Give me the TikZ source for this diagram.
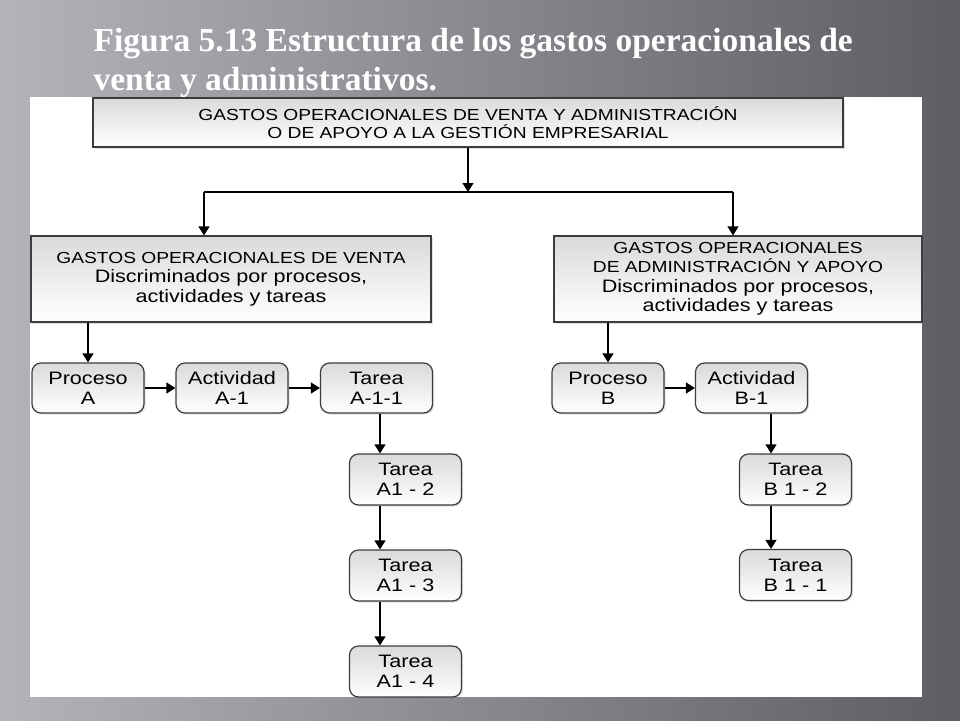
\documentclass[tikz,border=0pt]{standalone}
\usepackage{fontspec}
\setmainfont{Liberation Serif}
\newfontfamily\boxfont[FakeStretch=1.2]{Liberation Sans}
\usepackage{tikz}
\usetikzlibrary{arrows.meta}
\usetikzlibrary{shadows}

\definecolor{bglight}{HTML}{B4B3B9}
\definecolor{bgdark}{HTML}{5E5D63}
\definecolor{boxline}{HTML}{3C3C3C}
\definecolor{boxtop}{HTML}{DADADA}

\newcommand{\capsline}{\fontsize{16}{19.5}\selectfont}

\begin{document}
\begin{tikzpicture}[x=1pt, y=-1pt,
	frame/.style={draw=boxline, line width=1.2pt, top color=boxtop, bottom color=white,
		drop shadow={opacity=0.25, shadow xshift=1.5pt, shadow yshift=-1.5pt},
		align=center, inner sep=0pt},
	bigbox/.style={frame, font=\boxfont\fontsize{18}{19.5}\selectfont},
	smallbox/.style={frame, rounded corners=9pt, minimum width=112pt, minimum height=50pt,
		font=\boxfont\fontsize{18}{20}\selectfont},
	arr/.style={-{Triangle[length=9pt,width=11pt]}, line width=1.3pt}]

	%Background
	\useasboundingbox (0,0) rectangle (960,720);
	\shade[left color=bglight, right color=bgdark] (0,0) rectangle (960,720);

	%Title
	\node[anchor=base west, align=left, text=white, font=\bfseries\fontsize{33.5}{39}\selectfont] (title) at (90,90)
		{Figura 5.13 Estructura de los gastos operacionales de\\venta y administrativos.};

	%Panel
	\fill[white] (30,97) rectangle (922,697);

	%Main boxes
	\node[bigbox, minimum width=750pt, minimum height=49pt, font=\boxfont\fontsize{16}{17.5}\selectfont] (gastos) at (468,122.5)
		{GASTOS OPERACIONALES DE VENTA Y ADMINISTRACIÓN\\O DE APOYO A LA GESTIÓN EMPRESARIAL};
	\node[bigbox, minimum width=400pt, minimum height=86pt] (venta) at (231,279)
		{{\capsline GASTOS OPERACIONALES DE VENTA}\\Discriminados por procesos,\\actividades y tareas};
	\node[bigbox, minimum width=368pt, minimum height=86pt] (admin) at (738,279)
		{{\capsline GASTOS OPERACIONALES}\\{\capsline DE ADMINISTRACIÓN Y APOYO}\\Discriminados por procesos,\\actividades y tareas};

	%Venta branch
	\node[smallbox] (procA) at (88,388) {Proceso\\A};
	\node[smallbox] (actA) at (232,388) {Actividad\\A-1};
	\node[smallbox] (tarA11) at (376.5,388) {Tarea\\A-1-1};
	\node[smallbox, minimum height=51pt] (tarA12) at (405.5,479.5) {Tarea\\A1 - 2};
	\node[smallbox, minimum height=51pt] (tarA13) at (405.5,575.5) {Tarea\\A1 - 3};
	\node[smallbox, minimum height=51pt] (tarA14) at (405.5,671.5) {Tarea\\A1 - 4};

	%Administracion branch
	\node[smallbox] (procB) at (608,388) {Proceso\\B};
	\node[smallbox] (actB) at (751.5,388) {Actividad\\B-1};
	\node[smallbox, minimum height=51pt] (tarB12) at (795.5,479.5) {Tarea\\B 1 - 2};
	\node[smallbox, minimum height=51pt] (tarB11) at (795.5,575) {Tarea\\B 1 - 1};

	%Connectors
	\coordinate (split) at (468,192);
	\coordinate (splitV) at (204,192);
	\coordinate (splitA) at (733,192);
	\coordinate (colA) at (380,0);
	\coordinate (colB) at (771,0);

	\draw[arr] (gastos.south) -- (split);
	\draw[line width=1.3pt] (splitV) -- (splitA);
	\draw[arr] (splitV) -- (splitV |- venta.north);
	\draw[arr] (splitA) -- (splitA |- admin.north);

	\draw[arr] (venta.south -| procA.north) -- (procA.north);
	\draw[arr] (procA.east) -- (actA.west);
	\draw[arr] (actA.east) -- (tarA11.west);
	\draw[arr] (tarA11.south -| colA) -- (tarA12.north -| colA);
	\draw[arr] (tarA12.south -| colA) -- (tarA13.north -| colA);
	\draw[arr] (tarA13.south -| colA) -- (tarA14.north -| colA);

	\draw[arr] (admin.south -| procB.north) -- (procB.north);
	\draw[arr] (procB.east) -- (actB.west);
	\draw[arr] (actB.south -| colB) -- (tarB12.north -| colB);
	\draw[arr] (tarB12.south -| colB) -- (tarB11.north -| colB);

\end{tikzpicture}
\end{document}
